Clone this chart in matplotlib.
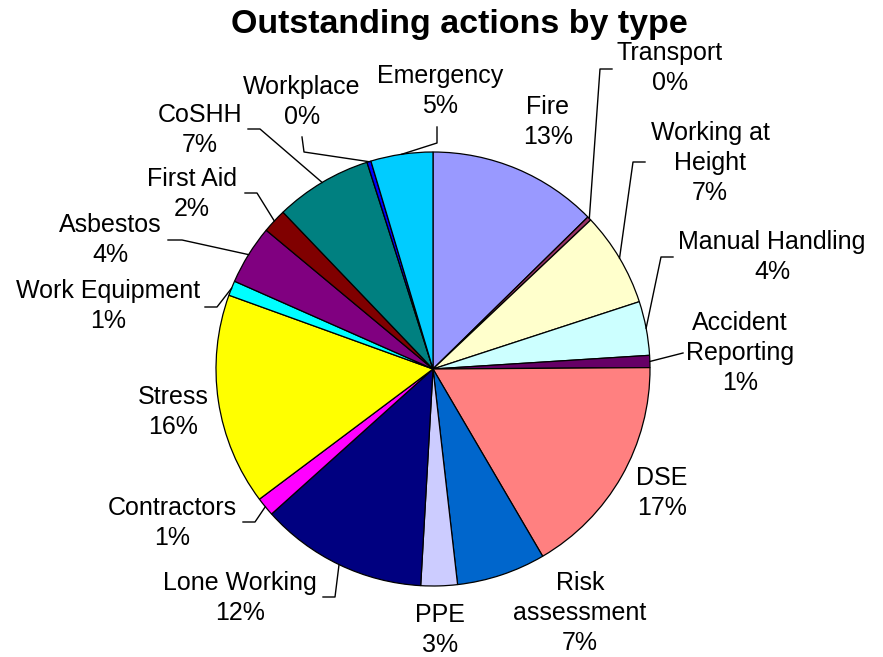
import numpy as np
from matplotlib import pyplot as plt

plt.rcParams['font.family'] = ['Liberation Sans', 'DejaVu Sans']

# share of outstanding actions (percent), clockwise from 12 o'clock
types = ["Fire", "Transport", "Working at\nHeight", "Manual Handling", "Accident\nReporting",
         "DSE", "Risk\nassessment", "PPE", "Lone Working", "Contractors", "Stress",
         "Work Equipment", "Asbestos", "First Aid", "CoSHH", "Workplace", "Emergency"]
shares = [12.6, 0.3, 7.0, 4.0, 0.9, 16.6, 6.6, 2.7, 12.4, 1.4, 15.7, 1.1, 4.4, 1.8, 7.2, 0.3, 4.6]
colors = ["#9999FF", "#993366", "#FFFFCC", "#CCFFFF", "#660066", "#FF8080", "#0066CC", "#CCCCFF",
          "#000080", "#FF00FF", "#FFFF00", "#00FFFF", "#800080", "#800000", "#008080", "#0000FF",
          "#00CCFF"]

# label placement in image pixels (x, y from top), and leader-line knees
label_pos = [(548, 122), (670, 68), (710, 163), (772, 257), (740, 353), (662, 493), (580, 613),
             (440, 630), (240, 598), (172, 523), (173, 412), (108, 306), (110, 240), (192, 194),
             (200, 130), (302, 102), (440, 91)]
leaders = [None, [(612, 69), (600, 69)], [(645, 162), (633, 162)], [(673, 257), (661, 257)],
           [(683, 353)], None, None, None, [(323, 597), (335, 597)], [(243, 522), (255, 522)],
           None, [(205, 307), (217, 307)], [(168, 240), (182, 240)], [(245, 193), (257, 193)],
           [(248, 129), (260, 129)], [(302, 137), (304, 152)], [(437, 127), (437, 143)]]

W, H = 883, 657
cx, cy, r = 433, H - 369, 217

fig = plt.figure(figsize=(8.83, 6.57), dpi=100)
ax = fig.add_axes([0, 0, 1, 1])

wedges, _ = ax.pie(shares, colors=colors, startangle=90, counterclock=False,
                   center=(cx, cy), radius=r,
                   wedgeprops=dict(edgecolor="black", linewidth=0.9))

total = sum(shares)
for w, name, v, (lx, ly), knees in zip(wedges, types, shares, label_pos, leaders):
    ax.text(lx, H - ly, "{}\n{:.0f}%".format(name, v / total * 100), ha="center", va="center",
            fontsize=18, linespacing=1.3, color="black")
    if knees:
        mid = np.radians((w.theta1 + w.theta2) / 2)
        xs = [k[0] for k in knees] + [cx + r * np.cos(mid)]
        ys = [H - k[1] for k in knees] + [cy + r * np.sin(mid)]
        ax.plot(xs, ys, color="black", lw=1)

ax.text(459, H - 25, "Outstanding actions by type", ha="center", va="center",
        fontsize=24.5, fontweight="bold")

ax.set_xlim(0, W)
ax.set_ylim(0, H)
ax.set_aspect("equal")
ax.axis("off")

plt.savefig("out.png", dpi=100)
